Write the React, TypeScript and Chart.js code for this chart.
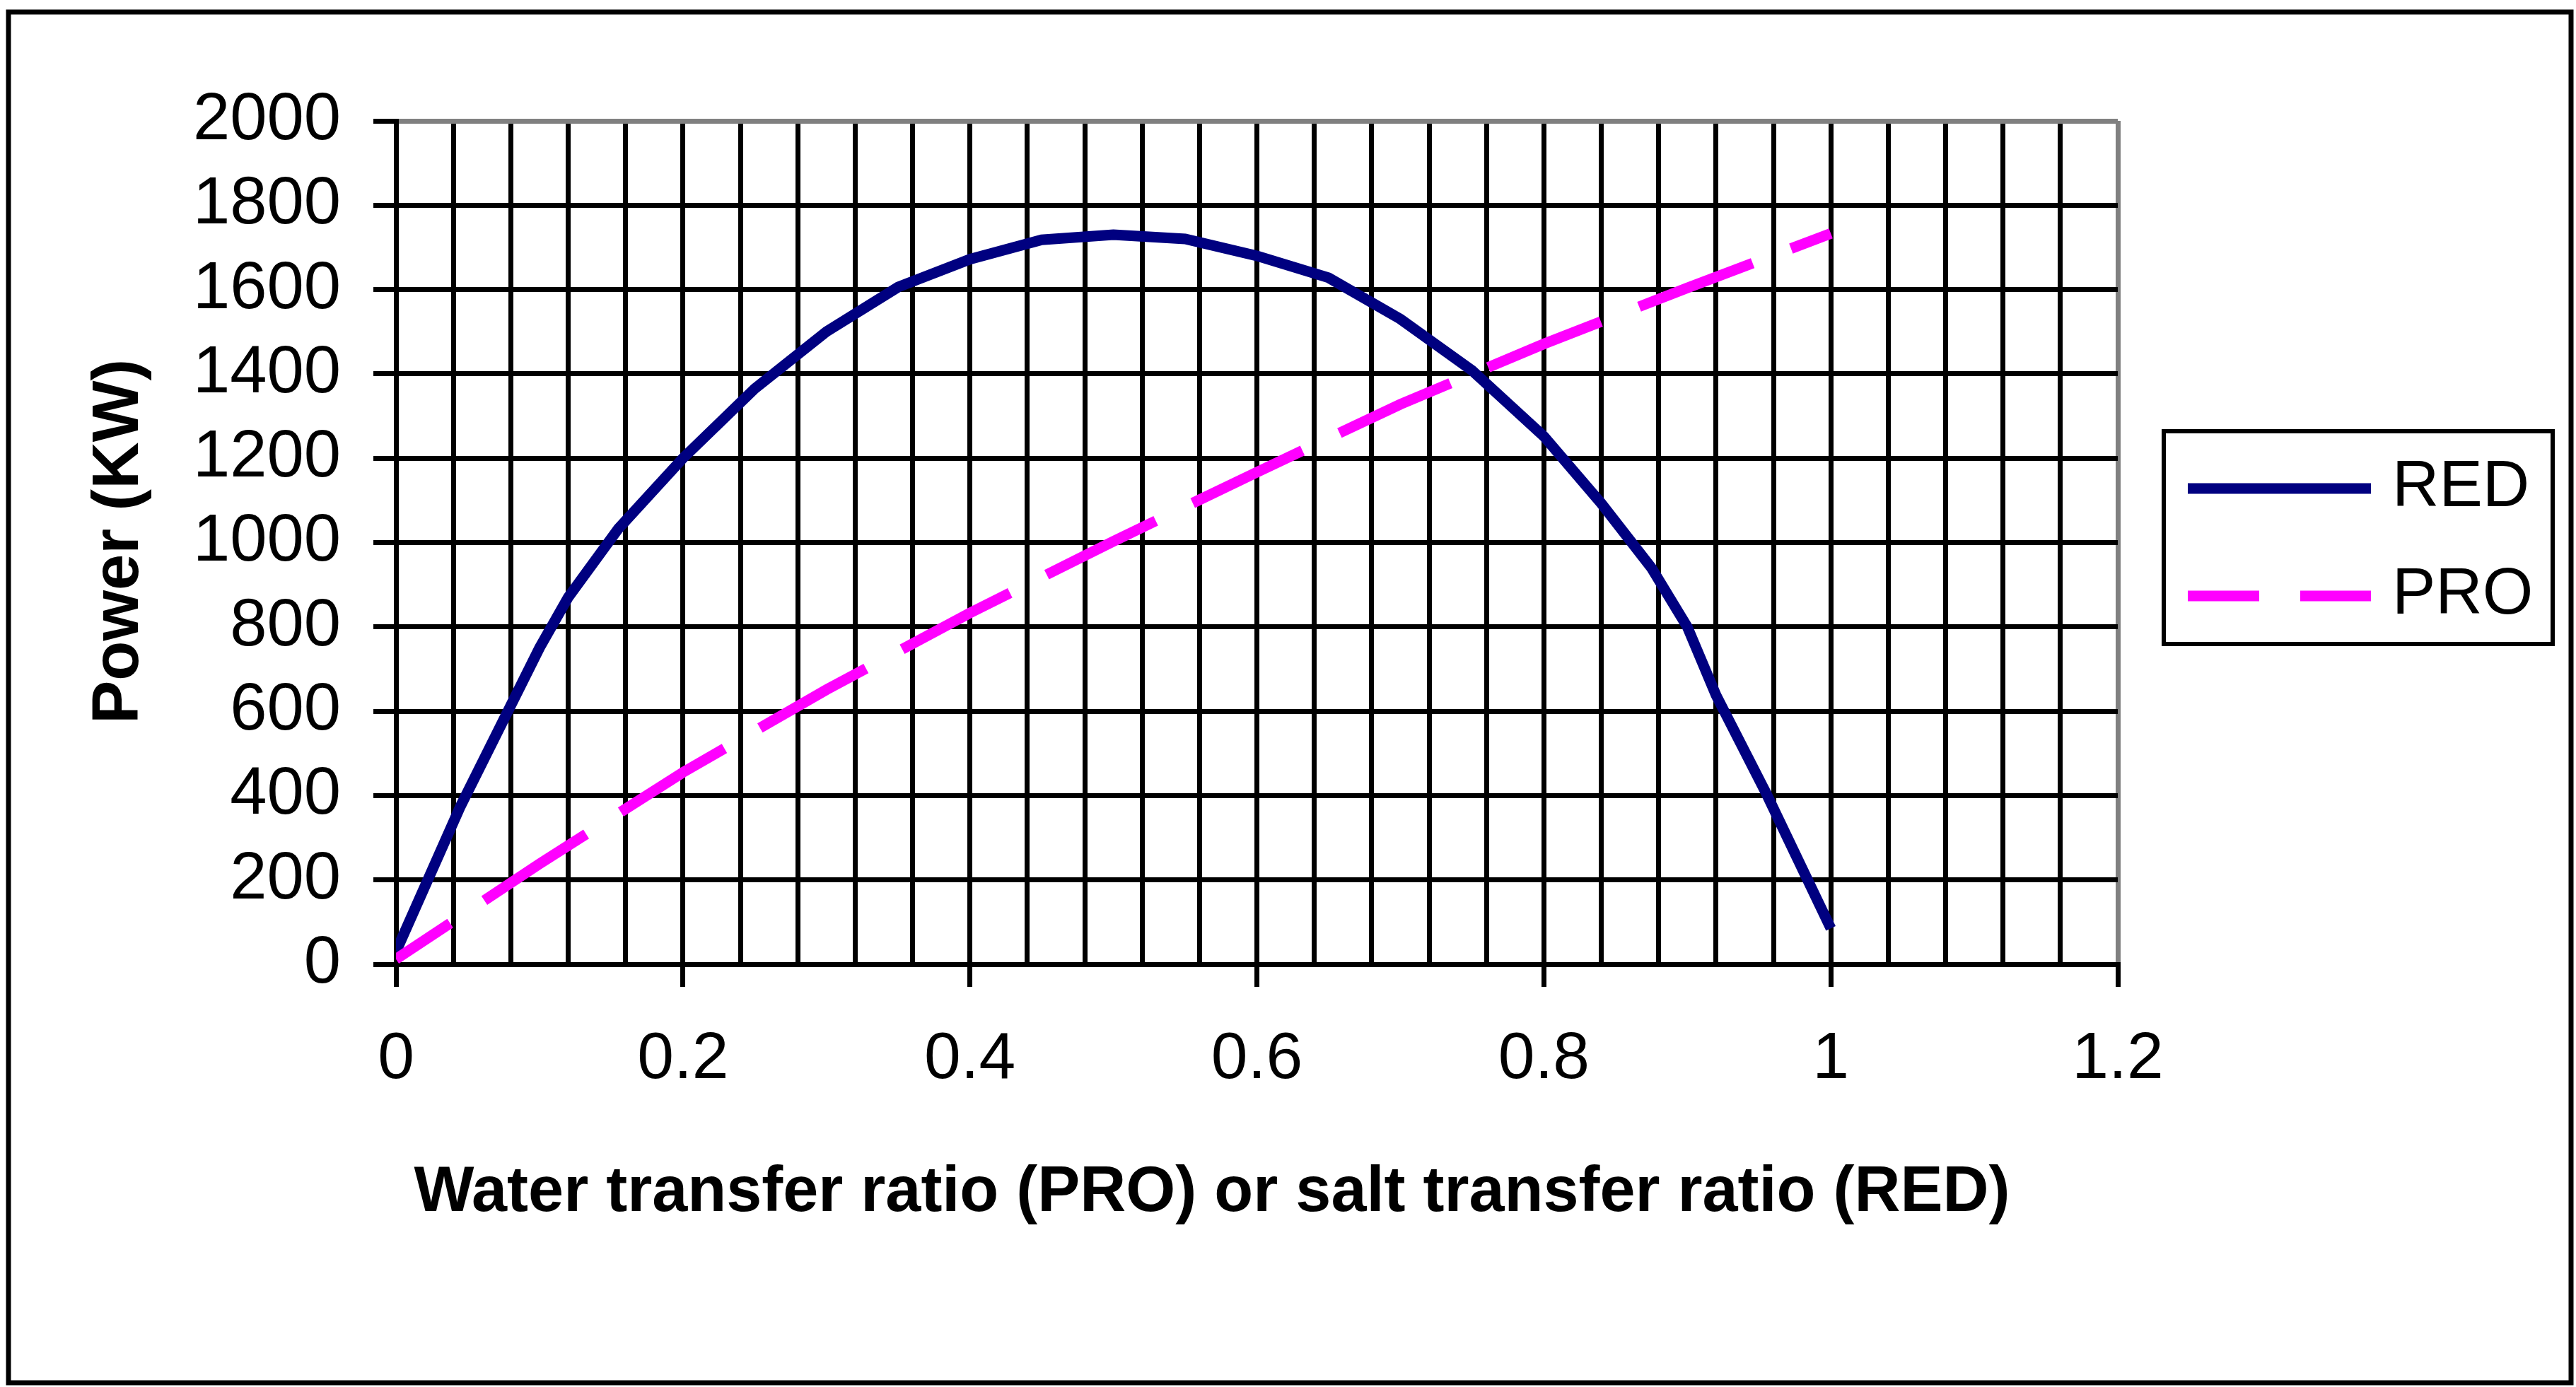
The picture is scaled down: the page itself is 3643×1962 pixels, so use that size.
import { useEffect, useRef } from 'react';
import { Chart, ChartConfiguration, Plugin, registerables } from 'chart.js';

Chart.register(...registerables);

const W = 3643;
const H = 1962;
const FONT = "'Liberation Sans', Arial, Helvetica, sans-serif";

// RED: salt transfer ratio vs power (KW)
const redRatio = [0, 0.045, 0.1, 0.12, 0.155, 0.2, 0.25, 0.3, 0.35, 0.4, 0.45, 0.5, 0.55, 0.6, 0.65, 0.7, 0.75, 0.8, 0.84, 0.875, 0.9, 0.92, 0.955, 1.0];
const redPower = [30, 375, 750, 870, 1033, 1200, 1365, 1500, 1606, 1672, 1718, 1730, 1720, 1680, 1628, 1530, 1408, 1252, 1093, 940, 800, 638, 405, 85];

// PRO: water transfer ratio vs power (KW)
const proRatio = [0, 0.1, 0.2, 0.3, 0.4, 0.5, 0.6, 0.7, 0.8, 0.9, 1.0];
const proPower = [12, 238, 455, 651, 833, 1003, 1167, 1328, 1471, 1604, 1733];

const seriesNames = ['RED', 'PRO'];
const seriesColors = ['#000080', '#FF00FF'];
const xTickLabels = ['0', '0.2', '0.4', '0.6', '0.8', '1', '1.2'];
const xTitle = 'Water transfer ratio (PRO) or salt transfer ratio (RED)';
const yTitle = 'Power (KW)';

const PRO_DASH = [172, 58];

const framePlugin: Plugin<'line'> = {
    id: 'frame',
    beforeDraw(chart) {
        const ctx = chart.ctx;
        ctx.save();
        ctx.fillStyle = '#fff';
        ctx.fillRect(0, 0, W, H);
        ctx.strokeStyle = '#000';
        ctx.lineWidth = 7;
        ctx.strokeRect(12, 17, 3624, 1939);
        ctx.restore();
    },
    afterDraw(chart) {
        const ctx = chart.ctx;
        // axis titles
        ctx.save();
        ctx.fillStyle = '#000';
        ctx.font = `bold 90px ${FONT}`;
        ctx.textAlign = 'center';
        ctx.textBaseline = 'middle';
        ctx.fillText(xTitle, 1714, 1688);
        ctx.font = `bold 92px ${FONT}`;
        ctx.translate(170, 766);
        ctx.rotate(-Math.PI / 2);
        ctx.fillText(yTitle, 0, 0);
        ctx.restore();

        // legend box
        ctx.save();
        ctx.strokeStyle = '#000';
        ctx.lineWidth = 6;
        ctx.strokeRect(3060, 610, 550, 301);
        const rows = [691, 843];
        chart.data.datasets.forEach((ds, i) => {
            const y = rows[i];
            ctx.beginPath();
            ctx.strokeStyle = ds.borderColor as string;
            ctx.lineWidth = 15;
            ctx.lineCap = 'butt';
            if (ds.borderDash) {
                ctx.setLineDash(PRO_DASH);
                ctx.lineDashOffset = 71;
            } else {
                ctx.setLineDash([]);
            }
            ctx.moveTo(3094, y);
            ctx.lineTo(3353, y);
            ctx.stroke();
            ctx.setLineDash([]);
            ctx.fillStyle = '#000';
            ctx.font = `92px ${FONT}`;
            ctx.textAlign = 'left';
            ctx.textBaseline = 'middle';
            ctx.fillText(ds.label as string, 3383, y);
        });
        ctx.restore();
    },
};

const isMajor = (v: number) => Math.abs(v / 0.2 - Math.round(v / 0.2)) < 1e-6;

const App = () => {
    const canvasRef = useRef<HTMLCanvasElement | null>(null);
    const chartInstance = useRef<Chart<'line'> | null>(null);

    useEffect(() => {
        document.body.style.margin = '0';
        if (!canvasRef.current) return;
        if (chartInstance.current) chartInstance.current.destroy();

        const config: ChartConfiguration<'line'> = {
            type: 'line',
            data: {
                datasets: [
                    {
                        label: seriesNames[0],
                        data: redRatio.map((x, i) => ({ x, y: redPower[i] })),
                        borderColor: seriesColors[0],
                        backgroundColor: seriesColors[0],
                        borderWidth: 15,
                        borderCapStyle: 'butt',
                        pointRadius: 0,
                        fill: false,
                        order: 1,
                    },
                    {
                        label: seriesNames[1],
                        data: proRatio.map((x, i) => ({ x, y: proPower[i] })),
                        borderColor: seriesColors[1],
                        backgroundColor: seriesColors[1],
                        borderWidth: 15,
                        borderCapStyle: 'butt',
                        borderDash: PRO_DASH,
                        borderDashOffset: 80,
                        pointRadius: 0,
                        fill: false,
                        order: 0,
                    },
                ],
            },
            options: {
                responsive: false,
                animation: false,
                devicePixelRatio: 1,
                layout: { padding: { left: 0, top: 171, right: 648, bottom: 0 } },
                elements: { line: { tension: 0 }, point: { radius: 0 } },
                plugins: {
                    legend: { display: false },
                    tooltip: { enabled: false },
                    title: { display: false },
                },
                scales: {
                    x: {
                        type: 'linear',
                        min: 0,
                        max: 1.2,
                        afterFit: (scale) => {
                            scale.height = 598;
                        },
                        ticks: {
                            stepSize: 0.04,
                            autoSkip: false,
                            maxRotation: 0,
                            padding: 48,
                            color: '#000',
                            font: { family: FONT, size: 93 },
                            callback: (v) => {
                                const n = Number(v);
                                return isMajor(n) ? xTickLabels[Math.round(n / 0.2)] : '';
                            },
                        },
                        grid: {
                            color: (ctx) => (Math.abs(ctx.tick.value - 1.2) < 1e-6 ? '#808080' : '#000'),
                            lineWidth: 7,
                            tickLength: 32,
                            tickWidth: 7,
                            tickColor: (ctx) => (isMajor(ctx.tick.value) ? '#000' : 'rgba(0,0,0,0)'),
                        },
                        border: { color: '#000', width: 7 },
                    },
                    y: {
                        min: 0,
                        max: 2000,
                        afterFit: (scale) => {
                            scale.width = 560;
                        },
                        ticks: {
                            stepSize: 200,
                            padding: 46,
                            color: '#000',
                            font: { family: FONT, size: 94 },
                            callback: (v) => String(v),
                        },
                        grid: {
                            color: (ctx) => (ctx.tick.value === 2000 ? '#808080' : '#000'),
                            lineWidth: 7,
                            tickLength: 32,
                            tickWidth: 7,
                            tickColor: '#000',
                        },
                        border: { color: '#000', width: 7 },
                    },
                },
            },
            plugins: [framePlugin],
        };

        chartInstance.current = new Chart(canvasRef.current, config);

        return () => {
            if (chartInstance.current) {
                chartInstance.current.destroy();
                chartInstance.current = null;
            }
        };
    }, []);

    return <canvas ref={canvasRef} width={W} height={H} style={{ display: 'block', width: W, height: H }} />;
};

export default App;
